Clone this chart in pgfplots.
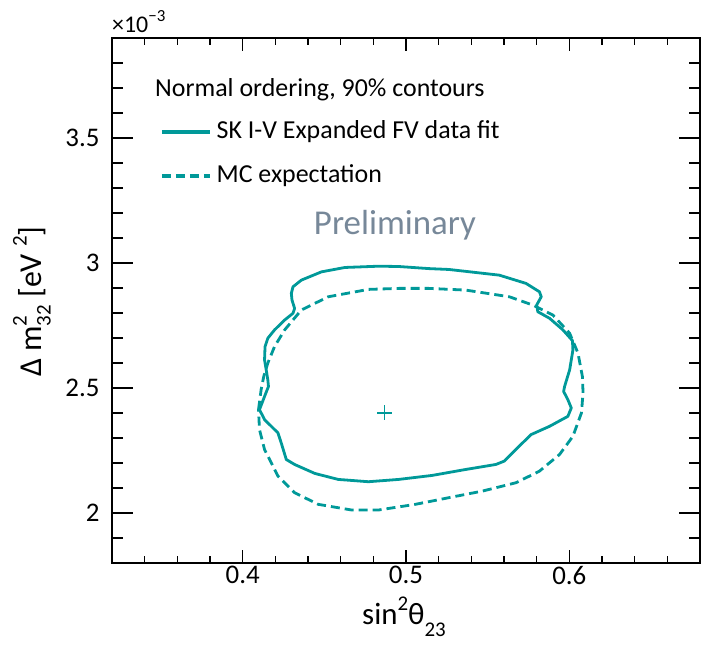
\documentclass[border=0pt]{standalone}
\usepackage{fontspec}
\setmainfont{Carlito}
\usepackage{pgfplots}
\usepackage{pgfplotstable}
\pgfplotsset{compat=1.18}
\definecolor{cteal}{RGB}{0,153,153}
\definecolor{prelim}{RGB}{119,136,153}
\newcommand{\fs}[1]{\fontsize{#1}{#1}\selectfont}

\pgfplotstableread{
x y
0.4302 2.8517
0.4298 2.8784
0.4308 2.9047
0.4359 2.9314
0.4482 2.9645
0.4626 2.9821
0.4832 2.9872
0.4955 2.9860
0.5140 2.9776
0.5263 2.9741
0.5571 2.9514
0.5735 2.9183
0.5817 2.8848
0.5828 2.8649
0.5800 2.8318
0.5807 2.8051
0.5879 2.7788
0.5961 2.7322
0.6019 2.6895
0.6022 2.6524
0.6002 2.5727
0.5971 2.5062
0.5965 2.4862
0.5991 2.4532
0.6012 2.4201
0.5991 2.3866
0.5879 2.3468
0.5766 2.3137
0.5714 2.2806
0.5601 2.2073
0.5550 2.1941
0.5366 2.1742
0.5160 2.1503
0.4955 2.1343
0.4770 2.1251
0.4585 2.1343
0.4442 2.1582
0.4318 2.1941
0.4267 2.2140
0.4236 2.2806
0.4216 2.3204
0.4134 2.3735
0.4103 2.4133
0.4134 2.4663
0.4158 2.5062
0.4154 2.5329
0.4144 2.5727
0.4134 2.6126
0.4137 2.6656
0.4154 2.6991
0.4195 2.7322
0.4257 2.7720
0.4308 2.7987
0.4318 2.8186
0.4302 2.8517
}\solid

\pgfplotstableread{
x y
0.4097 2.4133
0.4113 2.4930
0.4129 2.5460
0.4154 2.5994
0.4195 2.6656
0.4257 2.7322
0.4359 2.8119
0.4524 2.8649
0.4770 2.8944
0.4955 2.8984
0.5140 2.8984
0.5366 2.8916
0.5633 2.8649
0.5776 2.8318
0.5899 2.7920
0.6002 2.7190
0.6053 2.6393
0.6080 2.5460
0.6084 2.4799
0.6074 2.4002
0.6022 2.3069
0.5940 2.2340
0.5817 2.1674
0.5674 2.1212
0.5468 2.0877
0.5263 2.0614
0.5058 2.0347
0.4832 2.0120
0.4667 2.0120
0.4462 2.0347
0.4318 2.0813
0.4216 2.1475
0.4134 2.2539
0.4103 2.3336
0.4097 2.4133
}\mcexp

\begin{document}
\begin{tikzpicture}
\pgfplotsset{
  common/.style={
    scale only axis, width=588bp, height=525bp,
    xmin=0.32, xmax=0.68, ymin=1.8, ymax=3.9,
    tick align=inside,
    axis line style={line width=1.6bp},
    every tick/.style={black, line width=1.4bp},
    /pgf/number format/assume math mode=true,
    tick label style={font=\fs{27}},
  }
}
% y ticks axis
\begin{axis}[common,
  xtick=\empty,
  ytick={2,2.5,3,3.5},
  minor ytick={1.8,1.9,2.1,2.2,2.3,2.4,2.6,2.7,2.8,2.9,3.1,3.2,3.3,3.4,3.6,3.7,3.8,3.9},
  major tick length=21bp, minor tick length=11bp,
  yticklabel style={xshift=-9bp},
]
\end{axis}
% main axis with x ticks and data
\begin{axis}[common,
  ytick=\empty,
  xtick={0.4,0.5,0.6},
  minor xtick={0.32,0.34,0.36,0.38,0.42,0.44,0.46,0.48,0.52,0.54,0.56,0.58,0.62,0.64,0.66,0.68},
  major tick length=13bp, minor tick length=7bp,
  xticklabel style={yshift=0bp},
  legend style={draw=none, fill=none, at={(rel axis cs:0.0816,0.8438)}, anchor=north west,
    font=\fs{26}, row sep=20bp, inner sep=0pt,
    nodes={inner xsep=5bp, inner ysep=0pt, text height=18bp, text depth=6bp}},
  legend cell align=left,
  legend image code/.code={\draw[#1, line width=3.5bp] (0bp,0bp) -- (48bp,0bp);},
]
\addplot[cteal, line width=2.8bp, line join=round] table[x=x,y=y] {\solid};
\addlegendentry{SK I-V Expanded FV data fit}
\addplot[cteal, line width=2.8bp, line join=round, dash pattern=on 9bp off 5bp] table[x=x,y=y] {\mcexp};
\addlegendentry{MC expectation}
\addplot[cteal, only marks, mark=+, mark size=7.5bp, mark options={line width=1.3bp}, forget plot] coordinates {(0.487,2.40)};
\end{axis}
\begin{scope}[x=1bp,y=1bp]
\node[anchor=base west, inner sep=0pt, font=\fs{24}] at (0,530) {×10\raisebox{0.5em}{\fs{17}−3}};
\node[anchor=base west, inner sep=0pt, font=\fs{26}] at (43,466.3) {Normal ordering, 90\% contours};
\node[anchor=center, inner sep=0pt, font=\fs{35}, text=prelim] at (283,338) {Preliminary};
\node[anchor=base west, inner sep=0pt, font=\fs{31}] at (250,-61) {sin\raisebox{0.45em}{\fs{21}2}θ\raisebox{-0.4em}{\fs{21}23}};
\node[anchor=base west, inner sep=0pt, rotate=90, font=\fs{32}] at (-71,186) {Δ m\rlap{\raisebox{0.45em}{\fs{21}2}}\raisebox{-0.3em}{\fs{21}32} [eV \raisebox{0.45em}{\fs{21}2}]};
\end{scope}
\pgfresetboundingbox
\path[use as bounding box] (-112bp,-83bp) rectangle (589bp,563bp);
\end{tikzpicture}
\end{document}
